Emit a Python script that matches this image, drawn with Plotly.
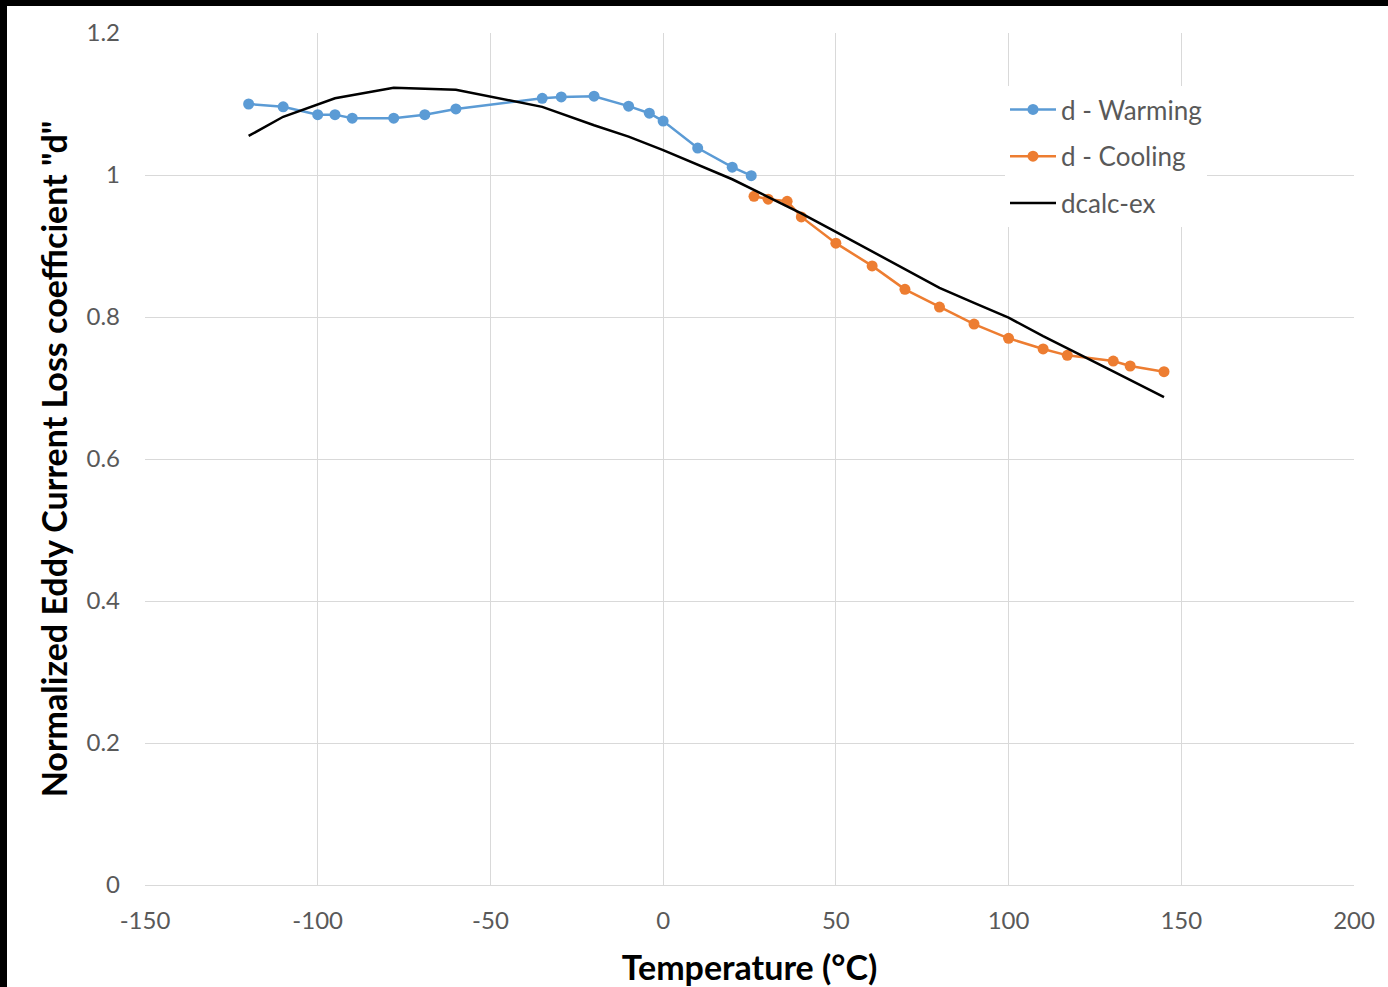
import plotly.graph_objects as go

# ---- data ----
warm_x = [-120, -110, -100, -95, -90, -78, -69, -60, -35, -29.5, -20, -10, -4, 0, 10, 20, 25.5]
warm_y = [1.100, 1.096, 1.085, 1.085, 1.080, 1.080, 1.085, 1.093, 1.108, 1.110, 1.111, 1.097, 1.087, 1.076, 1.038, 1.011, 0.999]

cool_x = [26.3, 30.4, 35.9, 40, 50, 60.5, 70, 80, 90, 100, 110, 117, 130.3, 135.2, 145]
cool_y = [0.970, 0.966, 0.963, 0.941, 0.904, 0.872, 0.839, 0.814, 0.790, 0.770, 0.755, 0.746, 0.738, 0.731, 0.723]

calc_x = [-120, -110, -95, -78, -60, -35, -20, -10, 0, 10, 20, 30, 40, 50, 60, 70, 80, 90, 100, 110, 120, 130, 145]
calc_y = [1.055, 1.082, 1.108, 1.123, 1.120, 1.096, 1.070, 1.054, 1.035, 1.015, 0.994, 0.970, 0.946, 0.920,
          0.894, 0.868, 0.841, 0.820, 0.799, 0.773, 0.749, 0.724, 0.687]

x_ticks = [-150, -100, -50, 0, 50, 100, 150, 200]
x_tick_labels = ["-150", "-100", "-50", "0", "50", "100", "150", "200"]
y_ticks = [0, 0.2, 0.4, 0.6, 0.8, 1, 1.2]
y_tick_labels = ["0", "0.2", "0.4", "0.6", "0.8", "1", "1.2"]

FONT = "Lato"
TICKC = "#595959"
GRID = "#d9d9d9"

fig = go.Figure()
fig.add_trace(go.Scatter(x=warm_x, y=warm_y, mode="lines+markers", name="d - Warming",
                         line=dict(color="#5B9BD5", width=2.5), marker=dict(size=11, color="#5B9BD5"),
                         legendgroup="a"))
fig.add_trace(go.Scatter(x=cool_x, y=cool_y, mode="lines+markers", name="d - Cooling",
                         line=dict(color="#ED7D31", width=2.5), marker=dict(size=11, color="#ED7D31"),
                         legendgroup="b"))
fig.add_trace(go.Scatter(x=calc_x, y=calc_y, mode="lines", name="dcalc-ex",
                         line=dict(color="black", width=2.5), legendgroup="c"))

W, H = 1388, 987
L, R, T, B = 145, 34, 33, 102
pw, ph = W - L - R, H - T - B

def px_x(p):
    return (p - L) / pw

def px_y(p):
    return (H - B - p) / ph

shapes = [
    dict(type="rect", xref="paper", yref="paper", x0=px_x(0), x1=px_x(W), y0=px_y(6), y1=px_y(0),
         fillcolor="black", line=dict(width=0), layer="above"),
    dict(type="rect", xref="paper", yref="paper", x0=px_x(0), x1=px_x(7), y0=px_y(H), y1=px_y(0),
         fillcolor="black", line=dict(width=0), layer="above"),
]

fig.update_layout(
    width=W, height=H,
    margin=dict(l=L, r=R, t=T, b=B, autoexpand=False),
    paper_bgcolor="white", plot_bgcolor="white",
    font=dict(family=FONT, color=TICKC, size=24),
    shapes=shapes,
    legend=dict(x=px_x(1005), y=px_y(86), xanchor="left", yanchor="top",
                bgcolor="white", font=dict(family=FONT, size=26, color=TICKC),
                traceorder="grouped", tracegroupgap=10, itemwidth=46),
    xaxis=dict(range=[-150, 200], tickvals=x_ticks, ticktext=x_tick_labels, showgrid=True,
               gridcolor=GRID, gridwidth=1, automargin=False,
               zeroline=False, showline=True, linecolor=GRID, linewidth=1, ticks="",
               ticklabelstandoff=14, tickfont=dict(family=FONT, size=24, color=TICKC),
               title=dict(text="Temperature (°C)", font=dict(family=FONT, size=34, color="black", weight="bold"),
                          standoff=24)),
    yaxis=dict(range=[0, 1.2], tickvals=y_ticks, ticktext=y_tick_labels, showgrid=True,
               gridcolor=GRID, gridwidth=1, automargin=False,
               zeroline=False, showline=False, ticks="",
               ticklabelstandoff=24, tickfont=dict(family=FONT, size=24, color=TICKC),
               title=dict(text='Normalized Eddy Current Loss coefficient "d"',
                          font=dict(family=FONT, size=34, color="black", weight="bold"), standoff=8)),
)

fig.write_html("out.html")
